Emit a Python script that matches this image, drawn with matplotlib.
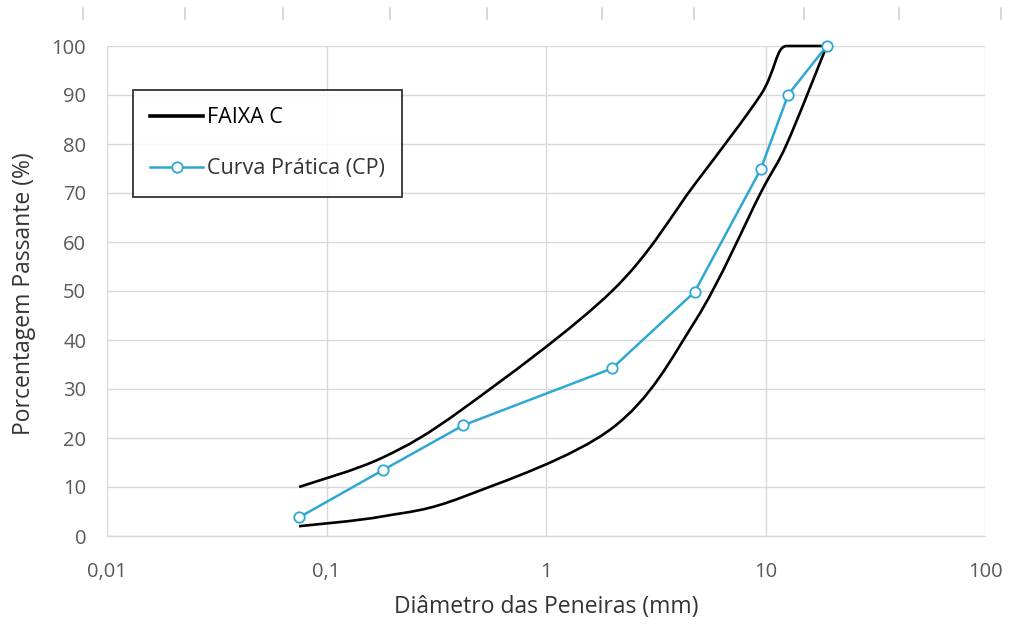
import numpy as np
import matplotlib
matplotlib.use("Agg")
import matplotlib.pyplot as plt
from matplotlib.path import Path
from matplotlib.patches import PathPatch
from matplotlib.lines import Line2D

plt.rcParams['font.family'] = ['Open Sans', 'DejaVu Sans']

# Sieve openings (mm) and passing percentages
sieves = [0.075, 0.18, 0.42, 2.0, 4.8, 9.5, 12.5, 19.0]
faixa_c_upper = [10, 16, 26, 50, 72, 90, 100, 100]
faixa_c_lower = [2, 4, 8, 22, 44, 70, 80, 100]
cp_sieves = [0.075, 0.18, 0.42, 2.0, 4.75, 9.5, 12.7, 19.0]
cp_passing = [3.8, 13.4, 22.6, 34.2, 49.8, 74.8, 90.1, 100]

x_ticks = [0.01, 0.1, 1, 10, 100]
x_tick_labels = ['0,01', '0,1', '1', '10', '100']
y_ticks = list(range(0, 101, 10))

BLUE = '#2EA8D2'
GRID = '#D9D9D9'
TICK_TXT = '#595959'
TITLE_TXT = '#333333'


def smooth_path(xs, ys):
    """Smooth Bezier through the points, built in log-x space.
    Vertical tangents are flattened at local extremes / plateaus."""
    lx = np.log10(xs)
    y = np.asarray(ys, float)
    n = len(lx)

    def tangent(i):
        i0 = max(i - 1, 0)
        i2 = min(i + 1, n - 1)
        tx = (lx[i2] - lx[i0]) / 6
        ty = (y[i2] - y[i0]) / 6
        if 0 < i < n - 1 and (y[i + 1] - y[i]) * (y[i] - y[i - 1]) <= 0:
            ty = 0.0
        return tx, ty

    verts = [(xs[0], y[0])]
    codes = [Path.MOVETO]
    for i in range(n - 1):
        t1 = tangent(i)
        t2 = tangent(i + 1)
        c1 = (lx[i] + t1[0], y[i] + t1[1])
        c2 = (lx[i + 1] - t2[0], y[i + 1] - t2[1])
        verts += [(10 ** c1[0], c1[1]), (10 ** c2[0], c2[1]), (xs[i + 1], y[i + 1])]
        codes += [Path.CURVE4] * 3
    return Path(verts, codes)


fig = plt.figure(figsize=(10.09, 6.25), dpi=100)
ax = fig.add_axes([107 / 1009, 1 - 536 / 625, (985 - 107) / 1009, (536 - 46) / 625])
ax.set_xscale('log')
ax.set_xlim(0.01, 100)
ax.set_ylim(0, 100)

for ys in (faixa_c_upper, faixa_c_lower):
    ax.add_patch(PathPatch(smooth_path(sieves, ys), facecolor='none',
                           edgecolor='black', lw=1.9, capstyle='butt',
                           joinstyle='round', zorder=3, clip_on=False))

ax.plot(cp_sieves, cp_passing, color=BLUE, lw=1.8, marker='o', ms=7.5,
        mfc='white', mec=BLUE, mew=1.3, zorder=4, clip_on=False)

ax.set_xticks(x_ticks)
ax.set_xticklabels(x_tick_labels)
ax.xaxis.set_minor_locator(matplotlib.ticker.NullLocator())
ax.set_yticks(y_ticks)
ax.tick_params(length=0, colors=TICK_TXT, labelsize=14.5)
ax.tick_params(axis='x', pad=19)
ax.tick_params(axis='y', pad=15)
ax.grid(True, color=GRID, lw=1.0)
ax.set_axisbelow(True)
for side in ('top', 'right', 'left'):
    ax.spines[side].set_visible(False)
ax.spines['bottom'].set_color(GRID)
ax.spines['bottom'].set_linewidth(1.0)

fig.text(546 / 1009, 1 - 607 / 625, 'Diâmetro das Peneiras (mm)', fontsize=16.5,
         color=TITLE_TXT, ha='center', va='center')
fig.text(24 / 1009, 1 - 294 / 625, 'Porcentagem Passante (%)', fontsize=16.5,
         color=TITLE_TXT, ha='center', va='center', rotation=90)

handles = [Line2D([], [], color='black', lw=2.6),
           Line2D([], [], color=BLUE, lw=1.8, marker='o', ms=7.5, mfc='white',
                  mec=BLUE, mew=1.3)]
leg = ax.legend(handles, ['FAIXA C', 'Curva Prática (CP)'],
                loc='upper left', bbox_to_anchor=(133 / 1009, 1 - 90 / 625),
                bbox_transform=fig.transFigure, frameon=True, fancybox=False,
                edgecolor='black', fontsize=15.5, handlelength=2.45,
                handletextpad=0.2, labelspacing=1.4, borderpad=0.8,
                borderaxespad=0, labelcolor=TITLE_TXT)
leg.get_frame().set_linewidth(1.3)
leg.get_texts()[0].set_color('black')

# faint tick marks along the very top edge
for px in [83, 185, 283, 390, 487, 602, 694, 804, 899, 1001]:
    fig.add_artist(Line2D([px / 1009] * 2, [1 - 8 / 625, 1 - 19 / 625],
                          color='#D0D0D0', lw=1.2, transform=fig.transFigure))

fig.savefig('out.png', dpi=100, facecolor='white')
